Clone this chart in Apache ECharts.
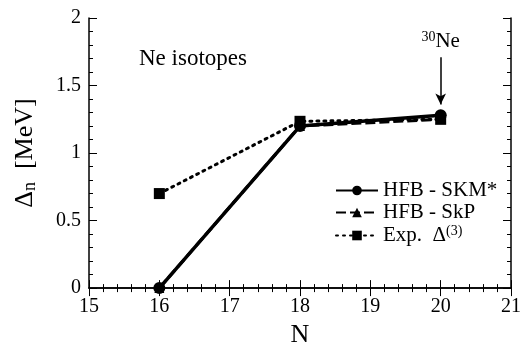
<!DOCTYPE html>
<html><head><meta charset="utf-8">
<script src="https://cdn.jsdelivr.net/npm/echarts@6/dist/echarts.min.js"></script>
<style>html,body{margin:0;padding:0;background:#fff}#c{width:524px;height:353px}</style>
</head><body><div id="c"></div>
<script>
var N = [16, 18, 20];
var skm = [0, 1.2, 1.28];
var skp = [0, 1.2, 1.25];
var exp3 = [0.7, 1.235, 1.25];
var names = ['HFB - SKM*', 'HFB - SkP', 'Exp. Δ(3)'];
var FONT = 'Liberation Serif';
function pts(v){ return N.map(function(n,i){ return [n, v[i]]; }); }
var chart = echarts.init(document.getElementById('c'), null, {renderer:'canvas'});
var axisCommon = {
  axisLine:{show:true, lineStyle:{color:'#000', width:1.5}},
  axisTick:{show:true, inside:true, length:8, lineStyle:{color:'#000', width:1}},
  minorTick:{show:true, splitNumber:5, length:4, lineStyle:{color:'#000', width:1}},
  splitLine:{show:false}
};
chart.setOption({
  animation:false,
  backgroundColor:'#fff',
  title:{text:'Ne isotopes', left:134, top:42, textStyle:{fontFamily:FONT, fontSize:23, fontWeight:'normal', color:'#000'}},
  grid:{left:89, right:9, top:18, bottom:63},
  legend:{
    orient:'vertical', left:330, top:175, itemGap:1, itemWidth:42, itemHeight:12,
    data:names,
    formatter:function(n){ return n === 'Exp. Δ(3)' ? '{t|Exp.  Δ}{s|(3)}' : '{t|'+n+'}'; },
    textStyle:{fontFamily:FONT, fontSize:21, color:'#000',
      rich:{t:{fontFamily:FONT, fontSize:21, color:'#000'}, s:{fontFamily:FONT, fontSize:14, color:'#000', verticalAlign:'top', padding:[0,0,9,0]}}}
  },
  xAxis:[
    Object.assign({type:'value', min:15, max:21, interval:1, position:'bottom',
      name:'N', nameLocation:'middle', nameGap:30,
      nameTextStyle:{fontFamily:FONT, fontSize:26, color:'#000'},
      axisLabel:{fontFamily:FONT, fontSize:20, color:'#000', margin:9}}, axisCommon),
    Object.assign({type:'value', min:15, max:21, interval:1, position:'top', axisLabel:{show:false}}, axisCommon)
  ],
  yAxis:[
    Object.assign({type:'value', min:0, max:2, interval:0.5, position:'left',
      name:'{a|Δ}{b|n}{a|  [MeV]}', nameLocation:'middle', nameGap:50, nameRotate:90,
      nameTextStyle:{fontFamily:FONT, fontSize:26, color:'#000',
        rich:{a:{fontFamily:FONT, fontSize:26, color:'#000'}, b:{fontFamily:FONT, fontSize:18, color:'#000', verticalAlign:'bottom', padding:[10,0,0,0]}}},
      axisLabel:{fontFamily:FONT, fontSize:20, color:'#000', margin:8}}, axisCommon),
    Object.assign({type:'value', min:0, max:2, interval:0.5, position:'right', axisLabel:{show:false}}, axisCommon)
  ],
  series:[
    {name:names[2], type:'line', data:pts(exp3), symbol:'rect', symbolSize:11, z:3,
      lineStyle:{color:'#000', width:3, type:[2,5], cap:'round'}, itemStyle:{color:'#000'}},
    {name:names[1], type:'line', data:pts(skp), symbol:'triangle', symbolSize:10, z:4,
      lineStyle:{color:'#000', width:3, type:[10,4]}, itemStyle:{color:'#000'}},
    {name:names[0], type:'line', data:pts(skm), symbol:'circle', symbolSize:12, z:5,
      lineStyle:{color:'#000', width:3.5}, itemStyle:{color:'#000'},
      markLine:{silent:true, symbol:['none','arrow'], symbolSize:[8,11],
        lineStyle:{color:'#000', width:1.5, type:'solid'},
        label:{show:true, position:'start', distance:4,
          formatter:'{s|30}{t|Ne}',
          rich:{t:{fontFamily:FONT, fontSize:21, color:'#000'}, s:{fontFamily:FONT, fontSize:14, color:'#000', verticalAlign:'top', padding:[0,0,9,0]}}},
        data:[[{coord:[20,1.71]},{coord:[20,1.36]}]]}}
  ]
});
</script></body></html>
